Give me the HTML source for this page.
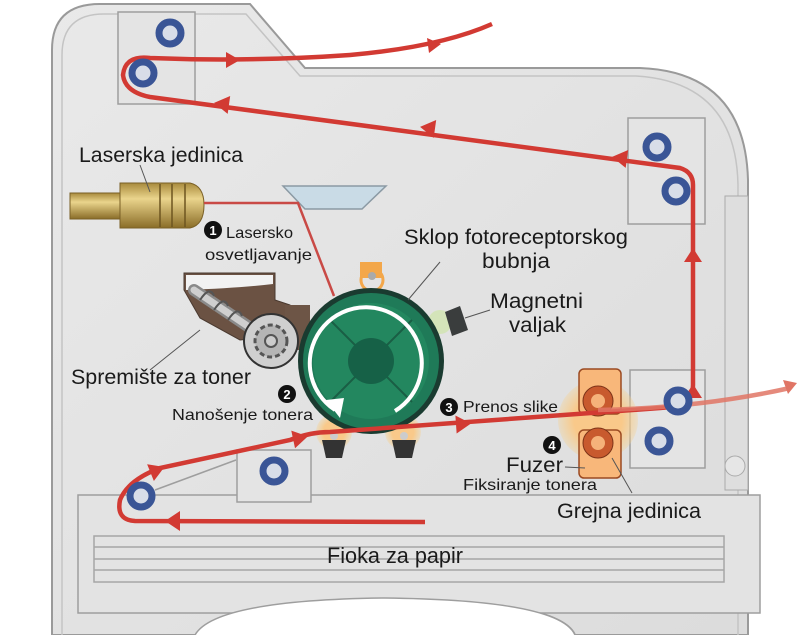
<!DOCTYPE html>
<html><head><meta charset="utf-8"><style>
html,body{margin:0;padding:0;background:#fff;}
svg{display:block;}
text{font-family:"Liberation Sans",sans-serif;fill:#1a1a1a;}
</style></head><body>
<svg width="800" height="635" viewBox="0 0 800 635" xmlns="http://www.w3.org/2000/svg">
<defs>
<linearGradient id="bg" x1="0" y1="0" x2="1" y2="1"><stop offset="0" stop-color="#e9e9e9"/><stop offset="1" stop-color="#dcdcdc"/></linearGradient>
<linearGradient id="brass" x1="0" y1="0" x2="0" y2="1"><stop offset="0" stop-color="#a88a3c"/><stop offset=".35" stop-color="#ead48c"/><stop offset="1" stop-color="#8a6d28"/></linearGradient>
<radialGradient id="glow"><stop offset=".6" stop-color="#f9c98a"/><stop offset="1" stop-color="#f6cf8a" stop-opacity=".3"/></radialGradient>
</defs>
<path d="M52,635 L52,50 Q52,4 100,4 L250,4 L305,68 L640,68 Q745,72 748,180 L748,635 L575,635 Q560,600 385,598 Q215,600 200,635 Z" fill="url(#bg)" stroke="#9a9a9a" stroke-width="2"/>
<path d="M62,635 L62,55 Q62,14 104,14 L246,14 L300,76 L636,76 Q736,82 738,185 L738,635" fill="none" stroke="#c4c4c4" stroke-width="1.5"/>
<path d="M725,196 L748,196 L748,490 L725,490 Z" fill="#dedede" stroke="#aaa"/>
<circle cx="735" cy="466" r="10" fill="#e6e6e6" stroke="#aaa"/>
<rect x="78" y="495" width="682" height="118" fill="#e3e3e3" stroke="#9e9e9e" stroke-width="1.5"/>
<path d="M195,635 Q215,600 385,598 Q560,600 575,635" fill="#fff" stroke="#9e9e9e" stroke-width="1.5"/>
<rect x="94" y="536" width="630" height="46" fill="none" stroke="#a6a6a6" stroke-width="1.5"/>
<line x1="94" y1="547" x2="724" y2="547" stroke="#a6a6a6" stroke-width="1.5"/>
<line x1="94" y1="559" x2="724" y2="559" stroke="#a6a6a6" stroke-width="1.5"/>
<line x1="94" y1="570" x2="724" y2="570" stroke="#a6a6a6" stroke-width="1.5"/>
<g fill="#e4e4e4" stroke="#9e9e9e" stroke-width="1.5">
<rect x="118" y="12" width="77" height="92"/>
<rect x="628" y="118" width="77" height="106"/>
<rect x="630" y="370" width="75" height="98"/>
<rect x="237" y="450" width="74" height="52"/>
</g>
<path d="M283,186 L386,186 L362,209 L305,209 Z" fill="#c9dbe6" stroke="#8b9aa4" stroke-width="1.5"/>
<rect x="70" y="193" width="52" height="26" fill="url(#brass)" stroke="#7a6026"/>
<path d="M120,183 L190,183 Q204,186 204,205 Q204,225 190,228 L120,228 Z" fill="url(#brass)" stroke="#7a6026"/>
<line x1="160" y1="184" x2="160" y2="227" stroke="#6d5520" stroke-width="1.5"/>
<line x1="172" y1="184" x2="172" y2="227" stroke="#6d5520" stroke-width="1.5"/>
<line x1="185" y1="184" x2="185" y2="227" stroke="#6d5520" stroke-width="1.5"/>
<line x1="140" y1="165" x2="150" y2="192" stroke="#555"/>
<path d="M204,203 L298,203 L334,296" fill="none" stroke="#c94a46" stroke-width="2.5"/>
<path d="M184,273 L275,273 L275,300 L290,305 L290,335 L240,340 L200,318 L184,290 Z" fill="#6b5243" stroke="#4a3a30"/>
<path d="M186,275 L273,275 L273,284 Q240,288 186,290 Z" fill="#f2f2f2"/>
<path d="M194,290 L258,333" stroke="#8a8a8a" stroke-width="12" stroke-linecap="round"/>
<path d="M194,290 L258,333" stroke="#cfcfcf" stroke-width="7" stroke-linecap="round"/>
<path d="M200,300 q10,-15 14,-4 M214,310 q10,-15 14,-4 M228,320 q10,-15 14,-4" fill="none" stroke="#555" stroke-width="2"/>
<rect x="285" y="305" width="25" height="45" fill="#6d5546"/>
<circle cx="271" cy="341" r="27" fill="#cfcfcf" stroke="#333" stroke-width="2"/>
<circle cx="271" cy="341" r="16" fill="#b5b5b5" stroke="#555" stroke-width="3" stroke-dasharray="5 3"/>
<circle cx="271" cy="341" r="6" fill="#ccc" stroke="#555" stroke-width="2"/>
<line x1="150" y1="370" x2="200" y2="330" stroke="#555"/>
<rect x="360" y="262" width="22" height="16" fill="#f3a74a"/>
<circle cx="372" cy="280" r="11" fill="none" stroke="#f3a74a" stroke-width="3"/>
<circle cx="372" cy="276" r="4" fill="#aaa"/>
<circle cx="440" cy="322" r="12" fill="#cfe5a8" opacity=".7"/>
<path d="M445,312 L460,306 L468,330 L452,336 Z" fill="#3a3d3d"/>
<line x1="465" y1="318" x2="490" y2="310" stroke="#555"/>
<circle cx="334" cy="432" r="18" fill="url(#glow)"/>
<circle cx="403" cy="432" r="18" fill="url(#glow)"/>
<path d="M322,440 L346,440 L342,458 L326,458 Z" fill="#333"/>
<path d="M392,440 L416,440 L412,458 L396,458 Z" fill="#333"/>
<circle cx="334" cy="436" r="4" fill="#ccc"/><circle cx="404" cy="436" r="4" fill="#ccc"/>
<circle cx="371" cy="361" r="73" fill="#1a3b30"/>
<circle cx="371" cy="361" r="68" fill="#1f7a58"/>
<circle cx="371" cy="361" r="58" fill="#23875f"/>
<g stroke="#1a5e45" stroke-width="2"><line x1="330" y1="320" x2="412" y2="402"/><line x1="412" y1="320" x2="330" y2="402"/></g>
<circle cx="371" cy="361" r="23" fill="#166147"/>
<path d="M335,410 A56,56 0 1 1 395,411" fill="none" stroke="#fff" stroke-width="4"/>
<path d="M326,400 L340,418 L344,398 Z" fill="#fff"/>
<line x1="408" y1="300" x2="440" y2="262" stroke="#555"/>
<circle cx="598" cy="420" r="40" fill="url(#glow)"/>
<rect x="579" y="369" width="42" height="45" rx="5" fill="#f8b77a" stroke="#9b4a22" stroke-width="1.5"/>
<rect x="579" y="430" width="42" height="48" rx="5" fill="#f8b77a" stroke="#9b4a22" stroke-width="1.5"/>
<circle cx="598" cy="401" r="15" fill="#c85a2e" stroke="#7d3318"/><circle cx="598" cy="401" r="7" fill="#f5b27a"/>
<circle cx="598" cy="443" r="15" fill="#c85a2e" stroke="#7d3318"/><circle cx="598" cy="443" r="7" fill="#f5b27a"/>
<line x1="565" y1="467" x2="585" y2="468" stroke="#555"/>
<line x1="612" y1="458" x2="632" y2="493" stroke="#555"/>
<g fill="none" stroke="#d23a33" stroke-width="4.5">
<path d="M425,522 L135,521 Q116,520 120,500 Q128,480 160,468 L290,440 Q310,432 330,432 L660,408 Q693,406 693,385 L693,185 Q693,172 680,168 L150,97 Q125,92 123,75 Q125,55 150,58 Q250,62 350,55 Q440,47 492,24"/>
<path d="M598,410 Q700,408 790,388" stroke="#e07565" opacity=".85"/>
</g>
<path d="M783,380 L797,383 L788,394 Z" fill="#e07565"/>
<g fill="#d23a33">
<path d="M180,511 L165,521 L180,531 Z"/>
<g transform="translate(157,470) rotate(-22)"><path d="M-7,-9 L8,0 L-7,9 Z"/></g>
<g transform="translate(300,438) rotate(-12)"><path d="M-7,-9 L8,0 L-7,9 Z"/></g>
<g transform="translate(463,424) rotate(-4)"><path d="M-7,-9 L8,0 L-7,9 Z"/></g>
<path d="M684,262 L693,248 L702,262 Z"/>
<path d="M684,398 L693,384 L702,398 Z"/>
<g transform="translate(620,158) rotate(188)"><path d="M-7,-9 L8,0 L-7,9 Z"/></g>
<g transform="translate(428,128) rotate(188)"><path d="M-7,-9 L8,0 L-7,9 Z"/></g>
<g transform="translate(222,104) rotate(188)"><path d="M-7,-9 L8,0 L-7,9 Z"/></g>
<path d="M226,52 L240,60 L226,68 Z"/>
<path d="M427,38 L441,44 L429,53 Z"/>
</g>
<g fill="#d8dde8" stroke="#3a5596" stroke-width="7">
<circle cx="170" cy="33" r="11"/><circle cx="143" cy="73" r="11"/>
<circle cx="657" cy="147" r="11"/><circle cx="676" cy="191" r="11"/>
<circle cx="678" cy="401" r="11"/><circle cx="659" cy="441" r="11"/>
<circle cx="274" cy="471" r="11"/><circle cx="141" cy="496" r="11"/>
</g>
<line x1="155" y1="490" x2="236" y2="460" stroke="#9e9e9e" stroke-width="1.5"/>
<g fill="#111"><circle cx="213" cy="230" r="9"/><circle cx="287" cy="394" r="9"/><circle cx="449" cy="407" r="9"/><circle cx="552" cy="445" r="9"/></g>
<g font-size="13" text-anchor="middle" style="font-weight:bold"><text x="213" y="235" style="fill:#fff">1</text><text x="287" y="399" style="fill:#fff">2</text><text x="449" y="412" style="fill:#fff">3</text><text x="552" y="450" style="fill:#fff">4</text></g>
<g lengthAdjust="spacingAndGlyphs">
<text x="79" y="162" font-size="21" textLength="164" lengthAdjust="spacingAndGlyphs">Laserska jedinica</text>
<text x="226" y="238" font-size="16" textLength="67" lengthAdjust="spacingAndGlyphs">Lasersko</text>
<text x="205" y="260" font-size="16" textLength="107" lengthAdjust="spacingAndGlyphs">osvetljavanje</text>
<text x="404" y="244" font-size="21" textLength="224" lengthAdjust="spacingAndGlyphs">Sklop fotoreceptorskog</text>
<text x="482" y="268" font-size="21" textLength="68" lengthAdjust="spacingAndGlyphs">bubnja</text>
<text x="490" y="308" font-size="21" textLength="93" lengthAdjust="spacingAndGlyphs">Magnetni</text>
<text x="509" y="332" font-size="21" textLength="57" lengthAdjust="spacingAndGlyphs">valjak</text>
<text x="71" y="384" font-size="21" textLength="180" lengthAdjust="spacingAndGlyphs">Spremište za toner</text>
<text x="172" y="420" font-size="16" textLength="141" lengthAdjust="spacingAndGlyphs">Nanošenje tonera</text>
<text x="463" y="412" font-size="16" textLength="95" lengthAdjust="spacingAndGlyphs">Prenos slike</text>
<text x="506" y="472" font-size="21" textLength="57" lengthAdjust="spacingAndGlyphs">Fuzer</text>
<text x="463" y="490" font-size="16" textLength="134" lengthAdjust="spacingAndGlyphs">Fiksiranje tonera</text>
<text x="557" y="518" font-size="21" textLength="144" lengthAdjust="spacingAndGlyphs">Grejna jedinica</text>
<text x="327" y="563" font-size="22" textLength="136" lengthAdjust="spacingAndGlyphs">Fioka za papir</text>
</g>
</svg>
</body></html>
